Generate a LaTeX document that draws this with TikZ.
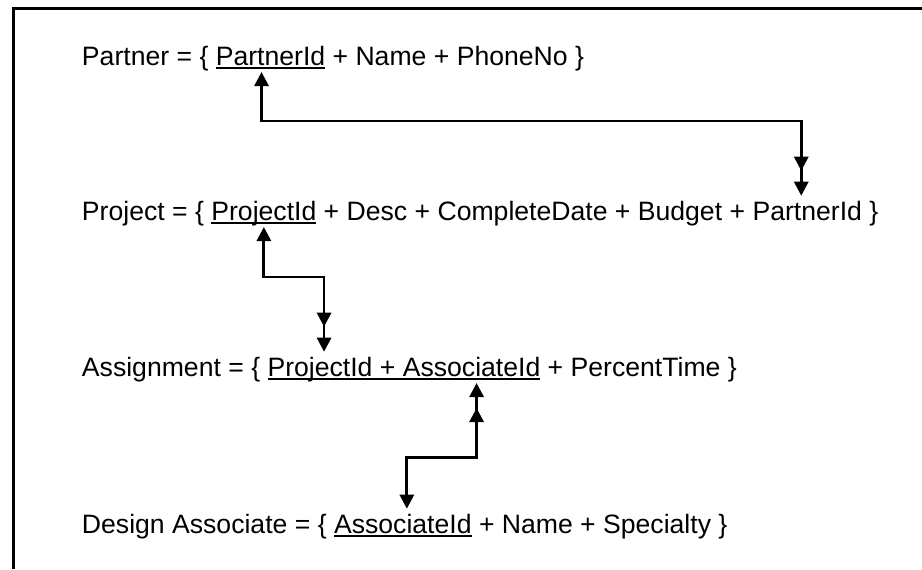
\documentclass[tikz,border=0pt]{standalone}
\usepackage{fontspec}
\setmainfont{Liberation Sans}
\usetikzlibrary{positioning,arrows.meta}
\tikzset{one/.tip={Triangle[length=7pt,width=7pt]},
  many/.tip={Triangle[length=7pt,width=7pt] Rectangle[length=5.5pt,width=1.4pt] Triangle[length=7pt,width=7pt]}}
\begin{document}
\begin{tikzpicture}
  [x=0.5pt,y=-0.5pt,
   every node/.style={inner sep=0pt,outer sep=0pt,anchor=base west,
     font=\fontsize{13.3}{16}\selectfont},
   uline/.style={line width=0.8pt},
   rel/.style={line width=1.4pt,one-many},
   frame/.style={line width=1.5pt}]
  \useasboundingbox (0,0) rectangle (922,569);
  \draw[frame] (13,569) -- (13,8) -- (922,8);

  \node (p1) at (82,65) {Partner = \{\ \null};
  \node (pk) [base right=0pt of p1] {PartnerId};
  \node (p2) [base right=0pt of pk] {\ + Name + PhoneNo \}};

  \node (j1) at (82,220) {Project = \{\ \null};
  \node (jk) [base right=0pt of j1] {ProjectId};
  \node (j2) [base right=0pt of jk] {\ + Desc + CompleteDate + Budget +\ \null};
  \node (jf) [base right=0pt of j2] {PartnerId};
  \node (j3) [base right=0pt of jf] {\ \}};

  \node (a1) at (82,376) {Assignment = \{\ \null};
  \node (ak1) [base right=0pt of a1] {ProjectId};
  \node (a2) [base right=0pt of ak1] {\ +\ \null};
  \node (ak2) [base right=0pt of a2] {AssociateId};
  \node (a3) [base right=0pt of ak2] {\ + PercentTime \}};

  \node (d1) at (82,533) {Design Associate = \{\ \null};
  \node (dk) [base right=0pt of d1] {AssociateId};
  \node (d2) [base right=0pt of dk] {\ + Name + Specialty \}};

  \foreach \from/\to in {pk/pk,jk/jk,ak1/ak2,dk/dk}
    \draw[uline] ([yshift=-1.5pt]\from.base west) -- ([yshift=-1.5pt]\to.base east);

  \draw[rel] ([xshift=-4.5pt,yshift=-3.5pt]pk.base) -- ++(0,49) -| ([xshift=-3pt,yshift=2.5pt]jf.north);
  \draw[rel] ([yshift=-3.5pt]jk.base) -- ++(0,50) -| ([xshift=2pt,yshift=2.5pt]ak1.north);
  \draw[rel] ([xshift=2pt,yshift=2.5pt]dk.north) -- ++(0,-51) -| ([xshift=2.5pt,yshift=-3.5pt]ak2.base);
\end{tikzpicture}
\end{document}
